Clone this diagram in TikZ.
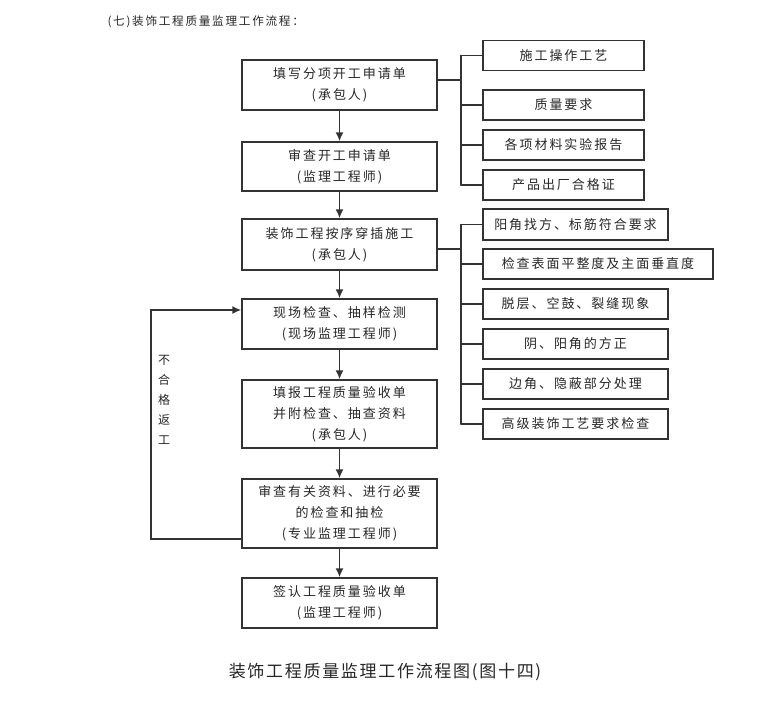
\documentclass[tikz,border=0pt]{standalone}
\usepackage{fontspec}
\usepackage{tikz}
\usetikzlibrary{arrows.meta}
\newfontfamily\cjk[LetterSpace=15]{Noto Sans CJK SC}
\newfontfamily\cjkcap[LetterSpace=10]{Noto Sans CJK SC}

\begin{document}
\begin{tikzpicture}
	[x=1pt,y=-1pt,line cap=round,
	%Styles
	>={Latex[length=9pt,width=8pt]},
	flow line/.style={draw=linecolor,line width=1.5pt},
	stage/.style={draw=linecolor,line width=1.5pt,minimum width=195pt,
		align=center,inner sep=0pt,text=textcolor,
		font=\cjk\fontsize{13}{21}\selectfont},
	point/.style={draw=linecolor,line width=1.5pt,minimum width=161pt,
		minimum height=30pt,inner sep=0pt,text=textcolor,
		font=\cjk\fontsize{13}{21}\selectfont}
	]
	
	%Colors
	\colorlet{linecolor}{black!80}	%boxes and lines
	\colorlet{textcolor}{black!85}	%all texts
	
	\useasboundingbox (0,0) rectangle (760,701);
	
	%The graphic
	\node[anchor=west,text=textcolor,font=\cjk\fontsize{11.6}{13}\selectfont] (heading) at (104,22) {(七)装饰工程质量监理工作流程：};
	
	\node[stage,minimum height=50pt] (apply) at (339.5,85) {填写分项开工申请单\\(承包人)};
	\node[stage,minimum height=49pt] (review) at (339.5,166.5) {审查开工申请单\\(监理工程师)};
	\node[stage,minimum height=51pt] (build) at (339.5,244.5) {装饰工程按序穿插施工\\(承包人)};
	\node[stage,minimum height=50pt] (inspect) at (339.5,324) {现场检查、抽样检测\\(现场监理工程师)};
	\node[stage,minimum height=68pt] (report) at (339.5,414) {填报工程质量验收单\\并附检查、抽查资料\\(承包人)};
	\node[stage,minimum height=69pt] (recheck) at (339.5,513.5) {审查有关资料、进行必要\\的检查和抽检\\(专业监理工程师)};
	\node[stage,minimum height=50pt] (sign) at (339.5,603) {签认工程质量验收单\\(监理工程师)};
	
	\draw[flow line,->] (apply) -- (review);
	\draw[flow line,->] (review) -- (build);
	\draw[flow line,->] (build) -- (inspect);
	\draw[flow line,->] (inspect) -- (report);
	\draw[flow line,->] (report) -- (recheck);
	\draw[flow line,->] (recheck) -- (sign);
	
	% first bracket
	\node[point] (craft) at (563.5,55.5) {施工操作工艺};
	\node[point] (quality) at (563.5,105) {质量要求};
	\node[point] (tests) at (563.5,145) {各项材料实验报告};
	\node[point] (cert) at (563.5,185) {产品出厂合格证};
	
	\coordinate (busA) at (461,80);
	\draw[flow line] (apply.east |- busA) -- (busA);
	\draw[flow line] (busA |- craft.west) -- (busA |- cert.west);
	\foreach \n in {craft,quality,tests,cert}
		\draw[flow line] (busA |- \n.west) -- (\n.west);
	
	% second bracket
	\node[point,minimum width=185pt,minimum height=31pt] (corner) at (575.5,224.5) {阳角找方、标筋符合要求};
	\node[point,minimum width=230pt] (flat) at (598,264) {检查表面平整度及主面垂直度};
	\node[point,minimum width=185pt] (crack) at (575.5,304) {脱层、空鼓、裂缝现象};
	\node[point,minimum width=185pt] (square) at (575.5,344) {阴、阳角的方正};
	\node[point,minimum width=185pt] (edge) at (575.5,384) {边角、隐蔽部分处理};
	\node[point,minimum width=185pt] (finish) at (575.5,424) {高级装饰工艺要求检查};
	
	\coordinate (busB) at (461,249);
	\draw[flow line] (build.east |- busB) -- (busB);
	\draw[flow line] (busB |- corner.west) -- (busB |- finish.west);
	\foreach \n in {corner,flat,crack,square,edge,finish}
		\draw[flow line] (busB |- \n.west) -- (\n.west);
	
	% return loop
	\coordinate (backlow) at (151,539);
	\coordinate (backhigh) at (151,310);
	\draw[flow line,->] (recheck.west |- backlow) -- (backlow) -- (backhigh) -- (inspect.west |- backhigh);
	\node[text=textcolor,align=center,font=\cjk\fontsize{12}{20}\selectfont] (fail) at (164,400) {不\\合\\格\\返\\工};
	
	\node[text=textcolor,font=\cjkcap\fontsize{17}{20}\selectfont] (caption) at (385,672) {装饰工程质量监理工作流程图(图十四)};
\end{tikzpicture}
\end{document}
